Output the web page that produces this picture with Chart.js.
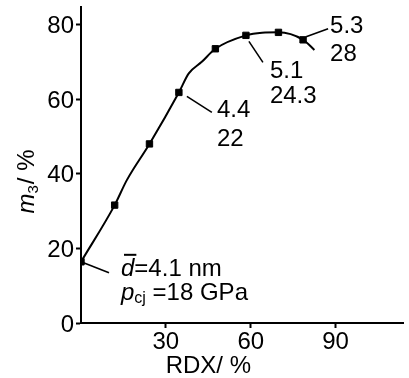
<!DOCTYPE html>
<html><head><meta charset="utf-8">
<style>html,body{margin:0;padding:0;background:#fff;overflow:hidden}#wrap{width:409px;height:378px;position:relative}</style>
<script src="https://cdn.jsdelivr.net/npm/chart.js@4"></script>
</head><body><div id="wrap"><canvas id="c" width="409" height="378"></canvas></div>
<script>
// ---- data ----
const rdxCurve = [0, 11.9, 16.2, 24.2, 34.6, 38.1, 42.7, 47.5, 58.3, 64, 69.8, 78.5, 82.5];
const m3Curve  = [16.4, 31.6, 38.3, 48.0, 61.8, 66.9, 70.0, 73.5, 77.1, 77.8, 77.9, 75.9, 73.2];
const rdxMarkers = [0, 11.9, 24.2, 34.6, 47.5, 58.3, 69.8, 78.5];
const m3Markers  = [16.4, 31.6, 48.0, 61.8, 73.5, 77.1, 77.9, 75.9];
const xTicks = [30, 60, 90];
const yTicks = [0, 20, 40, 60, 80];
// annotated markers: mean diameter (nm) and p_cj (GPa)
const annoMarker = [0, 3, 5, 7];
const annoDiam = ['4.1', '4.4', '5.1', '5.3'];
const annoPcj  = ['18', '22', '24.3', '28'];

const FONT = '"Liberation Sans", Arial, sans-serif';
// style: leader-line offsets and text offsets (px) relative to each annotated marker
const annoStyle = [
  {l:[0,0,28,11], tx:40, b1:14, b2:38},
  {l:[8,4,33,20], tx:38, b1:25, b2:54},
  {l:[3,6,17,27], tx:24, b1:43, b2:68},
  {l:[3,-3,25,-11], tx:27, b1:-7, b2:21}
];

const annoPlugin = {
  id: 'anno',
  afterDatasetsDraw(chart) {
    const ctx = chart.ctx, xs = chart.scales.x, ys = chart.scales.y;
    ctx.save();
    ctx.fillStyle = '#000'; ctx.strokeStyle = '#000';
    ctx.textBaseline = 'alphabetic'; ctx.textAlign = 'left';
    annoMarker.forEach((mi, i) => {
      const px = xs.getPixelForValue(rdxMarkers[mi]);
      const py = ys.getPixelForValue(m3Markers[mi]);
      const s = annoStyle[i];
      ctx.lineWidth = 1.6;
      ctx.beginPath();
      ctx.moveTo(px + s.l[0], py + s.l[1]);
      ctx.lineTo(px + s.l[2], py + s.l[3]);
      ctx.stroke();
      let x = px + s.tx;
      if (i === 0) {
        ctx.font = 'italic 24px ' + FONT;
        ctx.fillText('d', x, py + s.b1);
        const dw = ctx.measureText('d').width;
        ctx.fillRect(x + 3, py + s.b1 - 22, dw - 1, 2);
        ctx.font = '24px ' + FONT;
        ctx.fillText('=' + annoDiam[i] + ' nm', x + dw, py + s.b1);
        ctx.font = 'italic 24px ' + FONT;
        ctx.fillText('p', x, py + s.b2);
        const pw = ctx.measureText('p').width;
        ctx.font = '16px ' + FONT;
        ctx.fillText('cj', x + pw, py + s.b2 + 3);
        const cw = ctx.measureText('cj').width;
        ctx.font = '24px ' + FONT;
        ctx.fillText(' =' + annoPcj[i] + ' GPa', x + pw + cw, py + s.b2);
      } else {
        ctx.font = '24px ' + FONT;
        ctx.fillText(annoDiam[i], x, py + s.b1);
        ctx.fillText(annoPcj[i], x, py + s.b2);
      }
    });
    // y axis title: m3 / %
    ctx.save();
    ctx.translate(26, 182);
    ctx.rotate(-Math.PI / 2);
    ctx.font = 'italic 24px ' + FONT;
    const mw = ctx.measureText('m').width;
    ctx.font = '15px ' + FONT;
    const sw = ctx.measureText('3').width;
    ctx.font = '24px ' + FONT;
    const rw = ctx.measureText('/ %').width;
    let sx = -(mw + sw + rw) / 2;
    ctx.font = 'italic 24px ' + FONT;
    ctx.fillText('m', sx, 8);
    ctx.font = '15px ' + FONT;
    ctx.fillText('3', sx + mw, 12);
    ctx.font = '24px ' + FONT;
    ctx.fillText('/ %', sx + mw + sw + 1, 8);
    ctx.restore();
    // x axis title
    ctx.font = '24px ' + FONT;
    ctx.textAlign = 'center';
    ctx.fillText('RDX/ %', xs.getPixelForValue(45), 373);
    ctx.restore();
  }
};

new Chart(document.getElementById('c'), {
  type: 'line',
  data: {
    datasets: [
      {
        data: rdxCurve.map((x, i) => ({x, y: m3Curve[i]})),
        borderColor: '#000', borderWidth: 2, pointRadius: 0,
        tension: 0.3, cubicInterpolationMode: 'monotone', fill: false
      },
      {
        data: rdxMarkers.map((x, i) => ({x, y: m3Markers[i]})),
        showLine: false, pointStyle: 'rect', pointRadius: 4.5,
        pointBackgroundColor: '#000', pointBorderColor: '#000', pointBorderWidth: 1
      }
    ]
  },
  options: {
    responsive: false, animation: false, devicePixelRatio: 1,
    layout: {padding: {top: 7, right: 0, left: 0, bottom: 0}},
    plugins: {legend: {display: false}, tooltip: {enabled: false}},
    scales: {
      x: {
        type: 'linear', min: 0, max: 114,
        afterBuildTicks: s => { s.ticks = xTicks.map(v => ({value: v})); },
        afterFit: s => { s.height = 55; s.paddingLeft = 0; s.paddingRight = 0; },
        grid: {drawOnChartArea: false, tickLength: 5, tickWidth: 2, tickColor: '#000'},
        border: {color: '#000', width: 2},
        ticks: {color: '#000', font: {size: 24, family: FONT}, padding: 0, maxRotation: 0}
      },
      y: {
        min: 0, max: 84.7,
        afterBuildTicks: s => { s.ticks = yTicks.map(v => ({value: v})); },
        afterFit: s => { s.width = 81; s.paddingTop = 0; s.paddingBottom = 0; },
        grid: {drawOnChartArea: false, tickLength: 5, tickWidth: 2, tickColor: '#000'},
        border: {color: '#000', width: 2},
        ticks: {color: '#000', font: {size: 24, family: FONT}, padding: 2, labelOffset: 2}
      }
    }
  },
  plugins: [annoPlugin]
});
</script>
</body></html>
